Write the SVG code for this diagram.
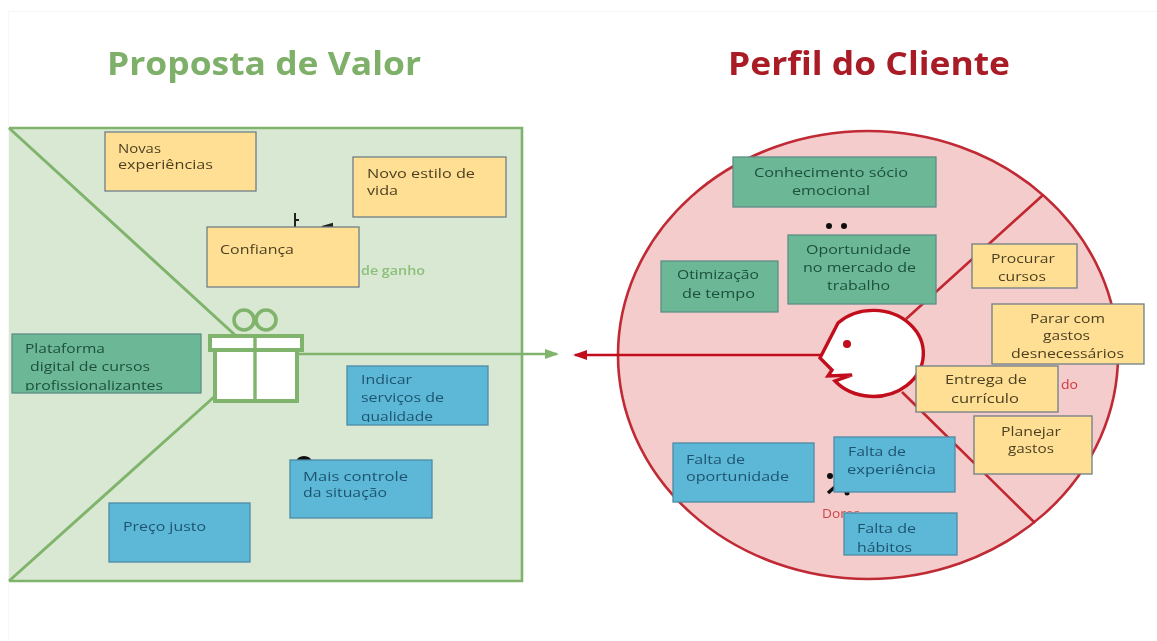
<svg xmlns="http://www.w3.org/2000/svg" width="1157" height="641" viewBox="0 0 1157 641">
<style>
text{font-family:"Open Sans","Liberation Sans",sans-serif;font-size:13px}
.title{font-family:"Open Sans","Liberation Sans",sans-serif;font-weight:700;font-size:32px}
.box{stroke:#6f7f86;stroke-width:1.3}
.y{fill:#ffdf94}.b{fill:#5bb8d6;stroke:#4f8aa6}.g{fill:#6cb896;stroke:#5f8f88}
.ty{fill:#4b3f20}.tb{fill:#1f5470}.tg{fill:#1d4f3d}
.gl{fill:none;stroke:#80b46c;stroke-width:3}
.rl{fill:none;stroke:#c2252f;stroke-width:2.6}
</style>
<defs>
<filter id="soft" x="0" y="0" width="100%" height="100%"><feGaussianBlur stdDeviation="0.4"/></filter>
<marker id="ga" markerWidth="14" markerHeight="10" refX="12" refY="5" orient="auto" markerUnits="userSpaceOnUse"><path d="M0 0L14 5L0 10z" fill="#80b46c"/></marker>
<marker id="ra" markerWidth="14" markerHeight="10" refX="12" refY="5" orient="auto" markerUnits="userSpaceOnUse"><path d="M0 0L14 5L0 10z" fill="#c2101c"/></marker>
<clipPath id="c1"><rect x="12" y="334" width="189" height="56.5"/></clipPath>
<clipPath id="c2"><rect x="347" y="366" width="141" height="56"/></clipPath>
</defs>
<rect width="1157" height="641" fill="#fff"/>
<g filter="url(#soft)">
<path d="M8 641V11H1157" fill="none" stroke="#f0f0f0" stroke-width="1"/>
<text class="title" x="107" y="75" fill="#7fb069" textLength="314" lengthAdjust="spacingAndGlyphs">Proposta de Valor</text>
<text class="title" x="728" y="75" fill="#a91c26" textLength="282" lengthAdjust="spacingAndGlyphs">Perfil do Cliente</text>

<g id="proposta-fundo">
<rect x="9" y="128" width="513" height="453" fill="#d9e8d3"/>
<path d="M9 128H522V581H9" fill="none" stroke="#80b46c" stroke-width="2.6"/>
</g>
<g id="perfil-fundo">
<ellipse cx="868" cy="355" rx="250" ry="224" fill="#f4cccc" stroke="#bf2a35" stroke-width="2.6"/>
</g>
<g id="connectors">
<path class="gl" d="M9 128L235 335M9 581L214 397"/>
<path class="rl" d="M906 319L1043 195M902 392L1035 523"/>
<path d="M297 354H557" fill="none" stroke="#80b46c" stroke-width="2.4" marker-end="url(#ga)"/>
<path d="M822 355H575" fill="none" stroke="#c2101c" stroke-width="2.4" marker-end="url(#ra)"/>
</g>
<g id="presente">
<circle cx="244" cy="320" r="10" class="gl" style="stroke-width:3.6"/>
<circle cx="266" cy="320" r="10" class="gl" style="stroke-width:3.6"/>
<rect x="215" y="350" width="82" height="51" fill="#fff" stroke="#80b46c" stroke-width="4"/>
<rect x="210" y="336" width="92" height="14" fill="#fff" stroke="#80b46c" stroke-width="4"/>
<path d="M255 336V401" stroke="#80b46c" stroke-width="3.4"/>
</g>
<g id="cabeca">
<path d="M838 323A50 43 0 1 1 835 381L852 375L828 376L832 370L820 358L838 323Z" fill="#fff" stroke="#c2101c" stroke-width="3.4" stroke-linejoin="miter"/>
<circle cx="847" cy="344" r="4" fill="#c2101c"/>
</g>
<g id="fragmentos">
<path d="M295 213V227M295 220H299M322 227L332 224V227Z" stroke="#222" stroke-width="2" fill="#222"/>
<ellipse cx="304" cy="462" rx="8" ry="6" fill="#111"/>
<circle cx="829" cy="226" r="3" fill="#111"/><circle cx="844" cy="226" r="3" fill="#111"/>
<circle cx="830" cy="476" r="3" fill="#111"/><circle cx="847" cy="493" r="2.5" fill="#111"/>
<path d="M828 493L836 486" stroke="#111" stroke-width="3.5"/>
<text x="361" y="275" fill="#8cc07a" font-weight="600" textLength="64" lengthAdjust="spacingAndGlyphs">de ganho</text>
<text x="1061" y="389" fill="#d0353e" textLength="17" lengthAdjust="spacingAndGlyphs">do</text>
<text x="822" y="518" fill="#d0454c" textLength="38" lengthAdjust="spacingAndGlyphs">Dores</text>
</g>
<g id="novas"><rect class="box y" x="105" y="132" width="151" height="59"/><text class="ty" x="118" y="153" textLength="43" lengthAdjust="spacingAndGlyphs">Novas</text><text class="ty" x="118" y="169" textLength="95" lengthAdjust="spacingAndGlyphs">experiências</text></g>
<g id="novo-estilo"><rect class="box y" x="353" y="157" width="153" height="60"/><text class="ty" x="367" y="178" textLength="108" lengthAdjust="spacingAndGlyphs">Novo estilo de</text><text class="ty" x="367" y="195" textLength="31" lengthAdjust="spacingAndGlyphs">vida</text></g>
<g id="confianca"><rect class="box y" x="207" y="227" width="152" height="60"/><text class="ty" x="220" y="254" textLength="74" lengthAdjust="spacingAndGlyphs">Confiança</text></g>
<g id="plataforma"><rect class="box g" x="12" y="334" width="189" height="59"/><g clip-path="url(#c1)"><text class="tg" x="25" y="353" textLength="80" lengthAdjust="spacingAndGlyphs">Plataforma</text><text class="tg" x="30" y="371" textLength="120" lengthAdjust="spacingAndGlyphs">digital de cursos</text><text class="tg" x="25" y="390" textLength="138" lengthAdjust="spacingAndGlyphs">profissionalizantes</text></g></g>
<g id="indicar"><rect class="box b" x="347" y="366" width="141" height="59"/><g clip-path="url(#c2)"><text class="tb" x="361" y="384" textLength="51" lengthAdjust="spacingAndGlyphs">Indicar</text><text class="tb" x="361" y="402" textLength="83" lengthAdjust="spacingAndGlyphs">serviços de</text><text class="tb" x="361" y="421" textLength="72" lengthAdjust="spacingAndGlyphs">qualidade</text></g></g>
<g id="mais-controle"><rect class="box b" x="290" y="460" width="142" height="58"/><text class="tb" x="303" y="481" textLength="105" lengthAdjust="spacingAndGlyphs">Mais controle</text><text class="tb" x="303" y="497" textLength="84" lengthAdjust="spacingAndGlyphs">da situação</text></g>
<g id="preco-justo"><rect class="box b" x="109" y="503" width="141" height="59"/><text class="tb" x="123" y="531" textLength="83" lengthAdjust="spacingAndGlyphs">Preço justo</text></g>
<g id="conhecimento"><rect class="box g" x="733" y="157" width="203" height="50"/><text class="tg" x="754" y="177" textLength="154" lengthAdjust="spacingAndGlyphs">Conhecimento sócio</text><text class="tg" x="792" y="195" textLength="78" lengthAdjust="spacingAndGlyphs">emocional</text></g>
<g id="otimizacao"><rect class="box g" x="661" y="261" width="117" height="51"/><text class="tg" x="677" y="279" textLength="82" lengthAdjust="spacingAndGlyphs">Otimização</text><text class="tg" x="682" y="298" textLength="73" lengthAdjust="spacingAndGlyphs">de tempo</text></g>
<g id="oportunidade"><rect class="box g" x="788" y="235" width="148" height="69"/><text class="tg" x="806" y="254" textLength="105" lengthAdjust="spacingAndGlyphs">Oportunidade</text><text class="tg" x="803" y="272" textLength="113" lengthAdjust="spacingAndGlyphs">no mercado de</text><text class="tg" x="827" y="290" textLength="63" lengthAdjust="spacingAndGlyphs">trabalho</text></g>
<g id="procurar"><rect class="box y" x="972" y="244" width="105" height="44"/><text class="ty" x="991" y="263" textLength="64" lengthAdjust="spacingAndGlyphs">Procurar</text><text class="ty" x="998" y="281" textLength="48" lengthAdjust="spacingAndGlyphs">cursos</text></g>
<g id="parar"><rect class="box y" x="992" y="304" width="152" height="60"/><text class="ty" x="1030" y="323" textLength="75" lengthAdjust="spacingAndGlyphs">Parar com</text><text class="ty" x="1043" y="340" textLength="47" lengthAdjust="spacingAndGlyphs">gastos</text><text class="ty" x="1011" y="358" textLength="113" lengthAdjust="spacingAndGlyphs">desnecessários</text></g>
<g id="entrega"><rect class="box y" x="916" y="366" width="142" height="46"/><text class="ty" x="945" y="384" textLength="82" lengthAdjust="spacingAndGlyphs">Entrega de</text><text class="ty" x="951" y="403" textLength="68" lengthAdjust="spacingAndGlyphs">currículo</text></g>
<g id="planejar"><rect class="box y" x="974" y="416" width="118" height="58"/><text class="ty" x="1001" y="436" textLength="60" lengthAdjust="spacingAndGlyphs">Planejar</text><text class="ty" x="1008" y="453" textLength="46" lengthAdjust="spacingAndGlyphs">gastos</text></g>
<g id="falta-oportunidade"><rect class="box b" x="673" y="443" width="141" height="59"/><text class="tb" x="686" y="464" textLength="59" lengthAdjust="spacingAndGlyphs">Falta de</text><text class="tb" x="686" y="481" textLength="103" lengthAdjust="spacingAndGlyphs">oportunidade</text></g>
<g id="falta-experiencia"><rect class="box b" x="834" y="437" width="121" height="55"/><text class="tb" x="848" y="456" textLength="58" lengthAdjust="spacingAndGlyphs">Falta de</text><text class="tb" x="847" y="474" textLength="89" lengthAdjust="spacingAndGlyphs">experiência</text></g>
<g id="falta-habitos"><rect class="box b" x="844" y="513" width="113" height="42"/><text class="tb" x="857" y="533" textLength="59" lengthAdjust="spacingAndGlyphs">Falta de</text><text class="tb" x="857" y="552" textLength="55" lengthAdjust="spacingAndGlyphs">hábitos</text></g>
</g>
</svg>
